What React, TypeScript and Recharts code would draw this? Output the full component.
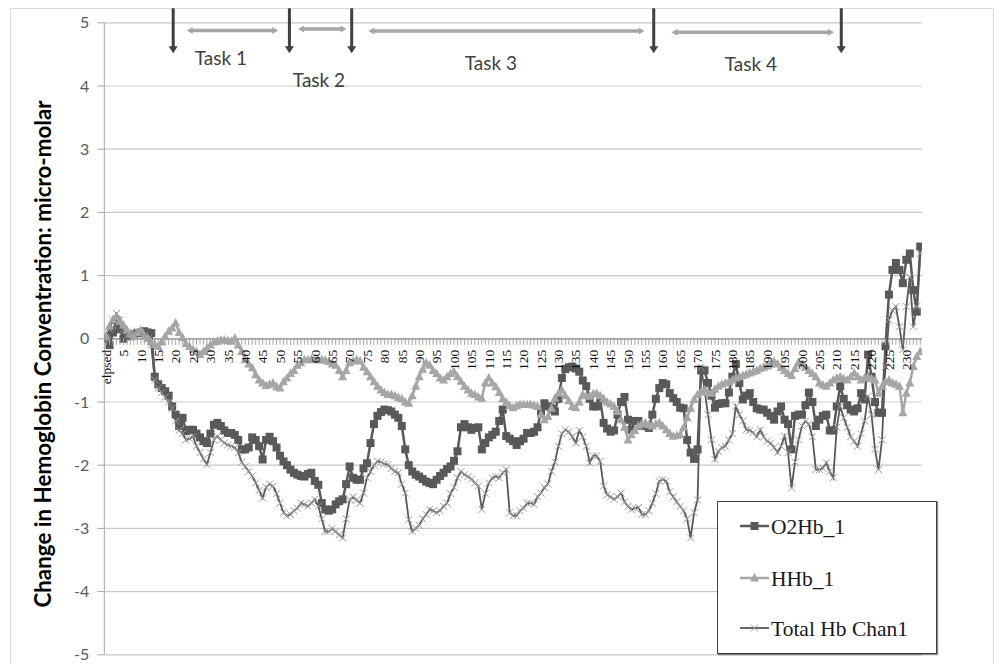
import React from 'react';
import { LineChart, Line, XAxis, YAxis, CartesianGrid, ReferenceLine, ReferenceDot, Legend } from 'recharts';

// x-axis tick labels (every 5th category; first category is "elpsed")
const tickLabels = ['elpsed', '5', '10', '15', '20', '25', '30', '35', '40', '45', '50', '55', '60', '65', '70', '75', '80', '85', '90', '95', '100', '105', '110', '115', '120', '125', '130', '135', '140', '145', '150', '155', '160', '165', '170', '175', '180', '185', '190', '195', '200', '205', '210', '215', '220', '225', '230'];

const seriesNames = ['O2Hb_1', 'HHb_1', 'Total Hb Chan1'];

const o2hb = [
  0.0, -0.1, 0.1, 0.3, 0.15, 0.0, 0.05, 0.04, 0.07, 0.09,
  0.1, 0.12, 0.1, 0.09, -0.6, -0.72, -0.78, -0.83, -0.9, -1.07,
  -1.2, -1.38, -1.25, -1.46, -1.44, -1.44, -1.5, -1.56, -1.62, -1.65,
  -1.5, -1.36, -1.33, -1.38, -1.45, -1.49, -1.49, -1.52, -1.6, -1.75,
  -1.75, -1.72, -1.56, -1.6, -1.7, -1.91, -1.6, -1.55, -1.62, -1.72,
  -1.85, -1.94, -2.0, -2.07, -2.12, -2.15, -2.17, -2.18, -2.14, -2.12,
  -2.25, -2.31, -2.6, -2.7, -2.72, -2.7, -2.62, -2.57, -2.54, -2.3,
  -2.02, -2.2, -2.23, -2.23, -2.05, -1.97, -1.65, -1.35, -1.22, -1.16,
  -1.12, -1.13, -1.15, -1.2, -1.25, -1.38, -1.75, -2.0, -2.1, -2.15,
  -2.18, -2.22, -2.26, -2.28, -2.3, -2.23, -2.17, -2.12, -2.06, -2.02,
  -1.93, -1.78, -1.4, -1.35, -1.4, -1.44, -1.41, -1.4, -1.75, -1.65,
  -1.56, -1.52, -1.47, -1.3, -1.12, -1.54, -1.58, -1.62, -1.68, -1.62,
  -1.58, -1.49, -1.49, -1.47, -1.4, -1.15, -1.02, -1.07, -1.1, -1.15,
  -0.95, -0.62, -0.48, -0.45, -0.44, -0.47, -0.52, -0.66, -0.75, -0.95,
  -1.07, -1.07, -0.95, -1.33, -1.42, -1.47, -1.45, -1.2, -1.0, -0.92,
  -1.28, -1.44, -1.3, -1.3, -1.38, -1.38, -1.41, -1.2, -0.95, -0.78,
  -0.7, -0.72, -0.86, -0.94, -1.0, -1.09, -1.1, -1.6, -1.8, -1.9,
  -1.75, -0.5, -0.5, -0.7, -0.9, -1.09, -1.03, -1.02, -1.02, -0.85,
  -0.6, -0.4, -0.7, -0.96, -0.9, -0.86, -1.0, -1.1, -1.12, -1.12,
  -1.17, -1.22, -1.28, -1.15, -1.07, -1.28, -1.35, -1.75, -1.22, -1.2,
  -1.2, -1.05, -0.85, -1.0, -1.38, -1.28, -1.22, -1.2, -1.45, -1.45,
  -1.07, -0.75, -0.95, -1.05, -1.12, -1.15, -1.1, -0.86, -0.96, -0.25,
  -0.6, -1.0, -1.17, -1.17, -0.12, 0.7, 1.09, 1.2, 1.09, 0.88,
  1.25, 1.35, 0.77, 0.43, 1.46,
];

const hhb = [
  0.04, 0.2, 0.3, 0.35, 0.28, 0.22, 0.14, 0.08, 0.04, 0.1,
  0.14, 0.05, 0.01, -0.05, -0.09, -0.12, -0.05, 0.04, 0.12, 0.17,
  0.25, 0.1, 0.02, -0.08, -0.12, -0.17, -0.2, -0.25, -0.2, -0.15,
  -0.1, -0.05, -0.04, -0.02, -0.02, -0.03, -0.04, 0.01, -0.1, -0.2,
  -0.33, -0.4, -0.46, -0.57, -0.65, -0.7, -0.74, -0.72, -0.7, -0.76,
  -0.78, -0.68, -0.62, -0.55, -0.5, -0.42, -0.38, -0.33, -0.33, -0.32,
  -0.33, -0.33, -0.33, -0.34, -0.36, -0.4, -0.42, -0.5, -0.6, -0.5,
  -0.38, -0.35, -0.33, -0.35, -0.45, -0.52, -0.6, -0.68, -0.75, -0.81,
  -0.85, -0.88, -0.88, -0.9, -0.93, -0.95, -1.0, -1.02, -0.9, -0.75,
  -0.6, -0.48, -0.38, -0.42, -0.5, -0.55, -0.62, -0.65, -0.6, -0.55,
  -0.52, -0.6, -0.67, -0.75, -0.81, -0.86, -0.88, -0.92, -0.94, -0.7,
  -0.62, -0.7, -0.76, -0.85, -0.95, -1.0, -1.06, -1.09, -1.06, -1.04,
  -1.04, -1.04, -1.04, -1.05, -1.07, -1.2, -1.28, -1.23, -1.1, -0.94,
  -0.86, -0.81, -0.9, -0.98, -1.07, -1.09, -1.0, -0.88, -0.9, -0.91,
  -0.87, -0.86, -0.9, -0.95, -1.0, -1.03, -1.07, -1.15, -1.28, -1.4,
  -1.6, -1.52, -1.45, -1.38, -1.35, -1.33, -1.36, -1.38, -1.35, -1.33,
  -1.38, -1.44, -1.5, -1.54, -1.53, -1.52, -1.4, -1.25, -1.1, -0.96,
  -0.88, -0.84, -0.81, -0.84, -0.86, -0.8, -0.75, -0.72, -0.7, -0.68,
  -0.65, -0.62, -0.6, -0.58, -0.56, -0.54, -0.52, -0.5, -0.47, -0.45,
  -0.43, -0.4, -0.36, -0.4, -0.46, -0.5, -0.55, -0.58, -0.47, -0.37,
  -0.4, -0.45, -0.5, -0.55, -0.6, -0.7, -0.73, -0.75, -0.7, -0.65,
  -0.62, -0.6, -0.63, -0.65, -0.6, -0.54, -0.6, -0.65, -0.62, -0.6,
  -0.63, -0.65, -0.86, -0.75, -0.68, -0.65, -0.7, -0.72, -0.75, -1.17,
  -0.86, -0.7, -0.44, -0.28, -0.2,
];

const totalHb = [
  0.0, 0.15, 0.3, 0.4, 0.3, 0.15, 0.05, 0.08, 0.1, 0.12,
  0.1, 0.05, 0.0, -0.1, -0.65, -0.78, -0.85, -0.92, -1.0, -1.1,
  -1.3, -1.45, -1.5, -1.6, -1.58, -1.55, -1.7, -1.8, -1.9, -1.99,
  -1.8, -1.6, -1.54, -1.6, -1.65, -1.68, -1.7, -1.72, -1.8, -1.95,
  -2.02, -2.1, -2.17, -2.28, -2.4, -2.52, -2.35, -2.3, -2.33, -2.45,
  -2.6, -2.75, -2.8, -2.78, -2.72, -2.68, -2.6, -2.62, -2.65, -2.6,
  -2.54, -2.65, -2.85, -3.05, -3.05, -3.0, -3.05, -3.1, -3.15, -2.85,
  -2.55, -2.5, -2.55, -2.6, -2.44, -2.2, -2.1, -2.0, -1.94, -1.95,
  -1.98, -1.99, -2.05, -2.1, -2.12, -2.3, -2.44, -2.86, -3.05, -3.0,
  -2.95, -2.85, -2.78, -2.7, -2.72, -2.75, -2.72, -2.65, -2.6, -2.45,
  -2.35, -2.2, -2.1, -2.15, -2.18, -2.22, -2.28, -2.33, -2.7, -2.45,
  -2.28, -2.2, -2.18, -2.2, -2.12, -2.07, -2.75, -2.8, -2.8, -2.72,
  -2.68, -2.6, -2.6, -2.62, -2.5, -2.44, -2.35, -2.3, -2.1, -1.95,
  -1.7, -1.5, -1.44, -1.47, -1.55, -1.65, -1.45, -1.55, -1.7, -1.96,
  -1.85, -1.85, -1.94, -2.33, -2.47, -2.5, -2.54, -2.5, -2.44, -2.58,
  -2.65, -2.7, -2.68, -2.67, -2.78, -2.78, -2.72, -2.6, -2.45, -2.25,
  -2.23, -2.25, -2.42, -2.5, -2.58, -2.65, -2.72, -2.85, -3.15, -2.75,
  -2.55, -0.45, -0.8, -1.2, -1.6, -1.91, -1.78, -1.72, -1.7, -1.6,
  -1.5, -1.07, -1.2, -1.3, -1.44, -1.45, -1.48, -1.55, -1.44, -1.55,
  -1.62, -1.65, -1.72, -1.8, -1.7, -1.54, -1.8, -2.36, -1.95, -1.6,
  -1.38, -1.3, -1.35, -1.55, -2.07, -2.07, -2.05, -1.96, -2.1, -2.2,
  -1.4, -1.07, -1.25, -1.4, -1.55, -1.62, -1.7, -1.5, -1.3, -0.91,
  -1.2, -1.75, -2.07, -1.6, -0.44, 0.3, 0.45, 0.51, 0.19, -0.17,
  0.51, 0.98, 0.19, 0.51, 1.35,
];

const yTicks = [5, 4, 3, 2, 1, 0, -1, -2, -3, -4, -5];

// task annotations (in data coordinates: category index, value)
const taskMarkers = [19.3, 52.7, 70.6, 157.4, 211.3];
const taskSpans = [
  { from: 23.2, to: 49.5, y: 4.88 },
  { from: 55.2, to: 69.1, y: 4.9 },
  { from: 75.4, to: 154.8, y: 4.87 },
  { from: 162.5, to: 209.2, y: 4.85 },
];
const taskLabels = [
  { text: 'Task 1', x: 33, y: 4.34 },
  { text: 'Task 2', x: 61.2, y: 3.98 },
  { text: 'Task 3', x: 110.6, y: 4.25 },
  { text: 'Task 4', x: 185.3, y: 4.23 },
];

const rows = o2hb.map((v, i) => ({ t: i, o2: v, hhb: hhb[i], total: totalHb[i] }));

const W = 1004;
const H = 664;
const X_AXIS_H = 1;
const MARGIN = { top: 22.8, right: 82, bottom: 8.2, left: 44.3 };
const PLOT_H = H - MARGIN.top - MARGIN.bottom - X_AXIS_H;

const DARK = '#595959';
const LIGHT = '#a6a6a6';

const XTick = (p: any) => {
  const zeroY = p.y - PLOT_H / 2;
  const v = p.payload.value;
  const show = v % 5 === 0;
  return (
    <g>
      <line x1={p.x} x2={p.x} y1={zeroY} y2={zeroY + 6} stroke={LIGHT} strokeWidth={1} />
      {show && (
        <text
          x={p.x}
          y={zeroY + 11}
          transform={`rotate(-90 ${p.x} ${zeroY + 11})`}
          textAnchor="end"
          dy="0.35em"
          fontSize={13.5}
          fontFamily="'Liberation Serif', serif"
          fill="#111"
        >
          {tickLabels[v / 5]}
        </text>
      )}
    </g>
  );
};

const SquareDot = (p: any) => {
  if (p.cx == null || p.cy == null) return <g key={`s${p.index}`} />;
  return <rect key={`s${p.index}`} x={p.cx - 4} y={p.cy - 4} width={8} height={8} fill={DARK} />;
};
const TriDot = (p: any) => {
  if (p.cx == null || p.cy == null) return <g key={`t${p.index}`} />;
  const { cx, cy } = p;
  return <polygon key={`t${p.index}`} points={`${cx},${cy - 5} ${cx - 4.5},${cy + 3.5} ${cx + 4.5},${cy + 3.5}`} fill={LIGHT} />;
};
const XDot = (p: any) => {
  if (p.cx == null || p.cy == null) return <g key={`x${p.index}`} />;
  const { cx, cy } = p;
  return (
    <g key={`x${p.index}`}>
      <line x1={cx - 3.5} y1={cy - 3.5} x2={cx + 3.5} y2={cy + 3.5} stroke="#9a9a9a" strokeWidth={1} />
      <line x1={cx - 3.5} y1={cy + 3.5} x2={cx + 3.5} y2={cy - 3.5} stroke="#9a9a9a" strokeWidth={1} />
    </g>
  );
};

const DownArrow = (p: any) => {
  const { x1, y1, x2, y2 } = p;
  return (
    <g>
      <line x1={x1} y1={y1} x2={x2} y2={y2 - 5} stroke="#404040" strokeWidth={3} />
      <polygon points={`${x2 - 4.5},${y2 - 7} ${x2 + 4.5},${y2 - 7} ${x2},${y2}`} fill="#404040" />
    </g>
  );
};
const SpanArrow = (p: any) => {
  const { x1, y1, x2, y2 } = p;
  return (
    <g>
      <line x1={x1 + 4} y1={y1} x2={x2 - 4} y2={y2} stroke={LIGHT} strokeWidth={3.5} />
      <polygon points={`${x1},${y1} ${x1 + 6},${y1 - 3.5} ${x1 + 6},${y1 + 3.5}`} fill={LIGHT} />
      <polygon points={`${x2},${y2} ${x2 - 6},${y2 - 3.5} ${x2 - 6},${y2 + 3.5}`} fill={LIGHT} />
    </g>
  );
};

const legendRows = [24, 76, 126];
const seriesKeys = ['o2', 'hhb', 'total'];

const LegendIcon = ({ k, cy }: { k: string; cy: number }) => {
  const x1 = 22, x2 = 51, cx = 36.5;
  if (k === 'o2') {
    return (
      <g>
        <line x1={x1} x2={x2} y1={cy} y2={cy} stroke={DARK} strokeWidth={2.5} />
        <rect x={cx - 4} y={cy - 4} width={8} height={8} fill={DARK} />
      </g>
    );
  }
  if (k === 'hhb') {
    return (
      <g>
        <line x1={x1} x2={x2} y1={cy} y2={cy} stroke={LIGHT} strokeWidth={2.5} />
        <polygon points={`${cx},${cy - 5} ${cx - 4.5},${cy + 3.5} ${cx + 4.5},${cy + 3.5}`} fill={LIGHT} />
      </g>
    );
  }
  return (
    <g>
      <line x1={x1} x2={x2} y1={cy} y2={cy} stroke={DARK} strokeWidth={1.8} />
      <line x1={cx - 3.5} y1={cy - 3.5} x2={cx + 3.5} y2={cy + 3.5} stroke="#9a9a9a" strokeWidth={1} />
      <line x1={cx - 3.5} y1={cy + 3.5} x2={cx + 3.5} y2={cy - 3.5} stroke="#9a9a9a" strokeWidth={1} />
    </g>
  );
};

const renderLegend = (props: any) => {
  const payload: any[] = props.payload || [];
  const ordered = seriesKeys
    .map((k) => payload.find((e) => e.dataKey === k))
    .filter(Boolean);
  return (
    <svg width={218} height={151} style={{ display: 'block' }}>
      {ordered.map((e: any, i: number) => (
        <g key={e.dataKey}>
          <LegendIcon k={e.dataKey} cy={legendRows[i]} />
          <text x={53} y={legendRows[i]} dy="0.35em" fontSize={21.5} fontFamily="'Liberation Serif', serif" fill="#1a1a1a">
            {e.value}
          </text>
        </g>
      ))}
    </svg>
  );
};

const YTitle = () => (
  <text
    x={43}
    y={354}
    transform="rotate(-90 43 354)"
    textAnchor="middle"
    dy="0.35em"
    fontSize={22.4}
    fontWeight="bold"
    fontFamily="Lato, 'Open Sans', sans-serif"
    fill="#000"
  >
    Change in Hemoglobin Conventration: micro-molar
  </text>
);

export default function App() {
  return (
    <div style={{ position: 'relative', width: W, height: H, overflow: 'hidden', background: '#fff' }}>
      <style>{`html,body{margin:0;padding:0;overflow:hidden;background:#fff}`}</style>
      <div
        style={{
          position: 'absolute',
          left: 10,
          top: 8,
          width: 984,
          height: 700,
          border: '1px solid #d9d9d9',
          boxSizing: 'border-box',
        }}
      />
      <div style={{ position: 'absolute', left: 0, top: 0 }}>
        <LineChart width={W} height={H} data={rows} margin={MARGIN}>
          <CartesianGrid vertical={false} stroke="#c8c8c8" strokeWidth={1.2} />
          <ReferenceLine y={0} stroke={LIGHT} strokeWidth={1.8} />
          <XAxis
            type="number"
            dataKey="t"
            domain={[-0.5, 234.5]}
            ticks={rows.map((r) => r.t)}
            interval={0}
            height={X_AXIS_H}
            tickSize={0}
            tickMargin={0}
            axisLine={false}
            tickLine={false}
            tick={XTick}
            allowDataOverflow
          />
          <YAxis
            type="number"
            domain={[-5, 5]}
            ticks={yTicks}
            interval={0}
            width={60}
            tickSize={7}
            tickMargin={8}
            axisLine={{ stroke: LIGHT }}
            tickLine={{ stroke: LIGHT }}
            tick={{ fill: DARK, fontSize: 16, fontFamily: 'Lato' }}
            allowDataOverflow
            label={YTitle}
          />
          <Line
            dataKey="o2"
            name={seriesNames[0]}
            stroke={DARK}
            strokeWidth={2.5}
            dot={SquareDot}
            activeDot={false}
            isAnimationActive={false}
          />
          <Line
            dataKey="hhb"
            name={seriesNames[1]}
            stroke={LIGHT}
            strokeWidth={2.5}
            dot={TriDot}
            activeDot={false}
            isAnimationActive={false}
          />
          <Line
            dataKey="total"
            name={seriesNames[2]}
            stroke={DARK}
            strokeWidth={1.8}
            dot={XDot}
            activeDot={false}
            isAnimationActive={false}
          />
          {taskMarkers.map((x, i) => (
            <ReferenceLine
              key={`m${i}`}
              segment={[{ x, y: 5.23 }, { x, y: 4.52 }]}
              ifOverflow="visible"
              shape={DownArrow}
            />
          ))}
          {taskSpans.map((s, i) => (
            <ReferenceLine
              key={`s${i}`}
              segment={[{ x: s.from, y: s.y }, { x: s.to, y: s.y }]}
              ifOverflow="visible"
              shape={SpanArrow}
            />
          ))}
          {taskLabels.map((l, i) => (
            <ReferenceDot
              key={`l${i}`}
              x={l.x}
              y={l.y}
              r={0}
              ifOverflow="visible"
              shape={(p: any) => (
                <text x={p.cx} y={p.cy} textAnchor="middle" fontSize={19} fontFamily="Lato, sans-serif" fill="#404040">
                  {l.text}
                </text>
              )}
            />
          ))}
          <Legend
            layout="vertical"
            align="center"
            verticalAlign="middle"
            content={renderLegend}
            wrapperStyle={{
              left: 717,
              top: 501,
              width: 220,
              height: 153,
              border: '1px solid #404040',
              boxShadow: '1px 1px 1px rgba(0,0,0,0.45)',
              background: '#fff',
              boxSizing: 'border-box',
            }}
          />
        </LineChart>
      </div>
    </div>
  );
}
